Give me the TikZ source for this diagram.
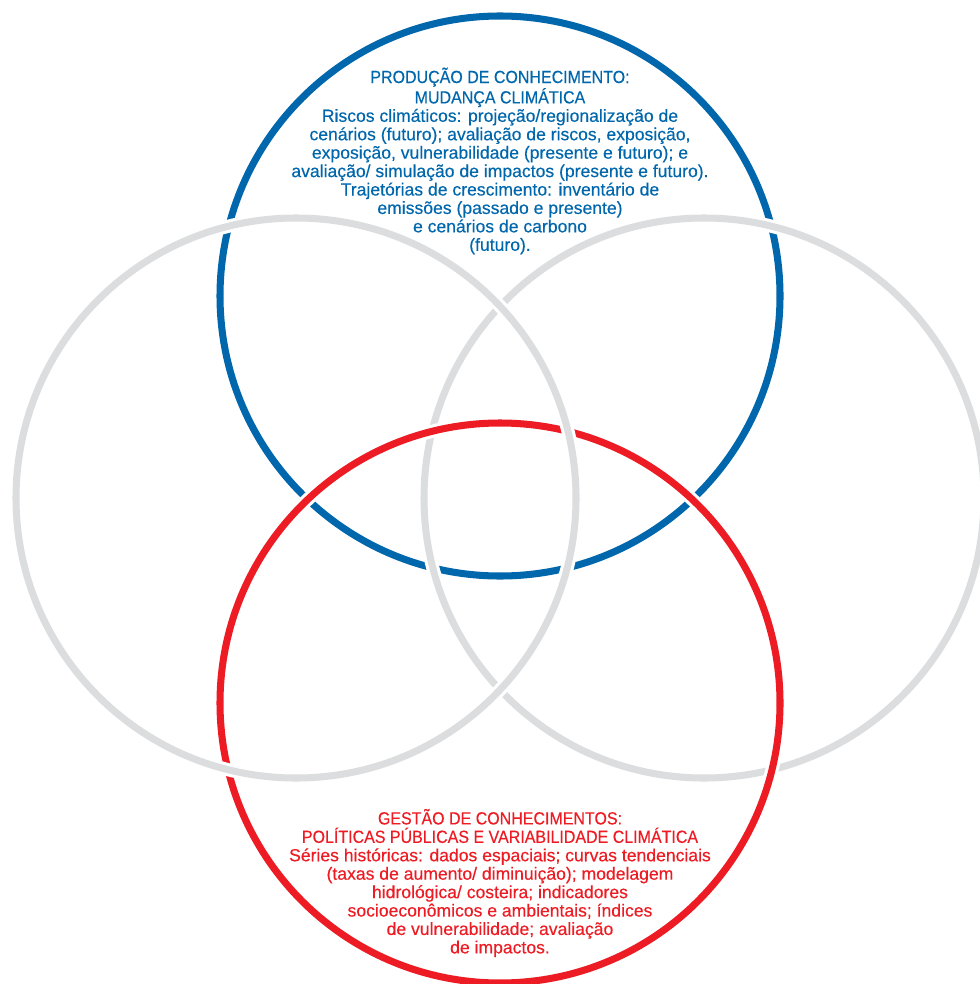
\documentclass[tikz,border=0pt]{standalone}
\usepackage{fontspec}
\setmainfont[FakeBold=0.35]{Liberation Sans}
\newfontfamily\titulo[FakeStretch=0.91, FakeBold=0.35]{Liberation Sans}
\definecolor{azul}{RGB}{0,103,172}
\definecolor{vermelho}{RGB}{237,28,36}
\definecolor{cinza}{RGB}{220,221,222}

\begin{document}
\begin{tikzpicture}[x=0.025cm, y=-0.025cm,
        anel/.style={white, line width=2.2pt, double=#1, double distance=5pt},
        texto/.style={align=center, text=#1, font=\fontsize{12.5}{13.1}\selectfont}]
            \useasboundingbox (0, 0) rectangle (979, 984);
            %anel = 圆环, 白色的边把下面的圆切开
            %画的顺序: 蓝 -> 右灰 -> 红 -> 左灰, 后画的压在上面
            \draw[anel=azul] (500, 296) circle (280);
            \draw[anel=cinza] (704, 498) circle (280);
            \draw[anel=vermelho] (500, 703) circle (280);
            \draw[anel=cinza] (296, 498) circle (280);
            %文字, 标题用 \titulo (窄一点)
            \node[texto=azul] (producao) at (500, 161) {{\titulo PRODUÇÃO DE CONHECIMENTO:}\\
                {\titulo MUDANÇA CLIMÁTICA}\\
                Riscos climáticos: projeção/regionalização de\\
                cenários (futuro); avaliação de riscos, exposição,\\
                exposição, vulnerabilidade (presente e futuro); e\\
                avaliação/ simulação de impactos (presente e futuro).\\
                Trajetórias de crescimento: inventário de\\
                emissões (passado e presente)\\
                e cenários de carbono\\
                (futuro).};
            \node[texto=vermelho] (gestao) at (500, 883) {{\titulo GESTÃO DE CONHECIMENTOS:}\\
                {\titulo POLÍTICAS PÚBLICAS E VARIABILIDADE CLIMÁTICA}\\
                Séries históricas: dados espaciais; curvas tendenciais\\
                (taxas de aumento/ diminuição); modelagem\\
                hidrológica/ costeira; indicadores\\
                socioeconômicos e ambientais; índices\\
                de vulnerabilidade; avaliação\\
                de impactos.};
        \end{tikzpicture}
\end{document}
